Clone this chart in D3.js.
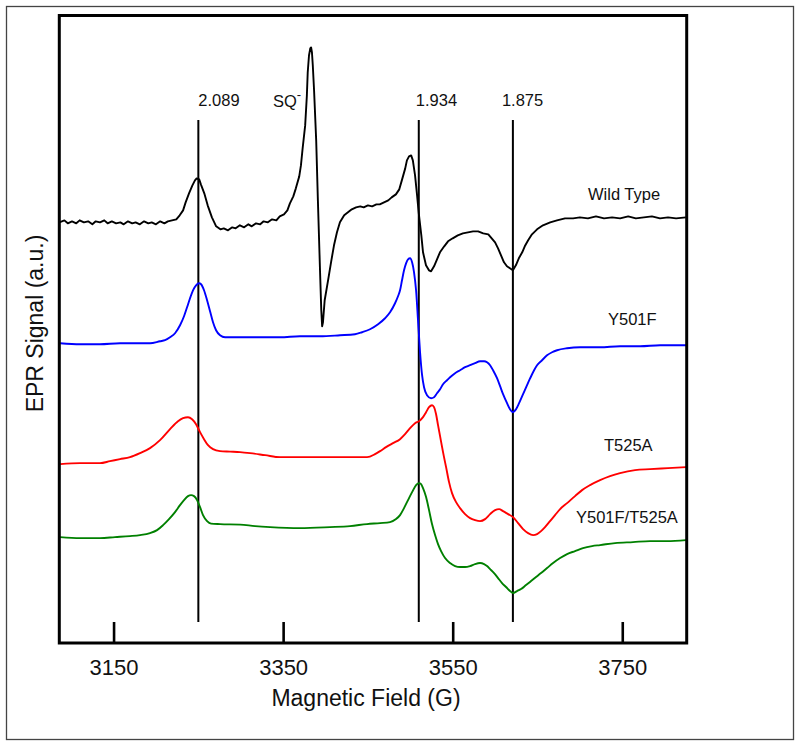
<!DOCTYPE html>
<html>
<head>
<meta charset="utf-8">
<script src="https://cdn.jsdelivr.net/npm/d3@7"></script>
<style>
  html, body { margin: 0; padding: 0; background: #fff; }
  svg { display: block; font-family: "Liberation Sans", Arial, Helvetica, sans-serif; }
</style>
</head>
<body>
<svg id="chart" width="800" height="747"></svg>
<script>
// ---------- DATA (field in Gauss, signal in arbitrary units) ----------
const fieldDomain = [3086, 3826];
const signalDomain = [0, 628];
const xTicks = [3150, 3350, 3550, 3750];

// g-value markers: label, field position (G)
const markerLabels = ["2.089", "1.934", "1.875"];
const markerFields = [3250, 3510, 3621];

const seriesNames = ["Wild Type", "Y501F", "T525A", "Y501F/T525A"];
const seriesColors = ["#000000", "#0000ff", "#ff0000", "#008000"];

const wildType = [
  [3086,421],[3092,423],[3096,420],[3101,422],[3106,420],[3110,423],[3115,421],[3120,422],[3125,419],[3129,422],
  [3134,421],[3139,423],[3143,420],[3148,422],[3153,420],[3158,421],[3162,419],[3167,422],[3172,420],[3176,421],
  [3181,419],[3186,422],[3191,420],[3195,421],[3200,419],[3205,422],[3210,420],[3214,422],[3219,423],[3224,424],
  [3228,428],[3232,433],[3235,441],[3239,450],[3243,458],[3246,463],[3248,465],[3251,464],[3253,459],[3257,450],
  [3261,438],[3266,426],[3271,417],[3276,414],[3280,415],[3285,413],[3290,416],[3294,415],[3299,418],[3304,416],
  [3309,419],[3313,417],[3318,420],[3323,419],[3327,422],[3332,421],[3337,424],[3342,423],[3346,427],[3351,429],
  [3355,433],[3358,440],[3362,447],[3365,455],[3369,467],[3371,478],[3373,495],[3376,518],[3378,548],[3379,571],
  [3380.5,588],[3382,595],[3383,596],[3384,591],[3385,578],[3386.5,553],[3389,503],[3391,443],[3393.5,373],[3395,333],
  [3396,317],[3397,321],[3399,343],[3403,363],[3406.5,381],[3410,398],[3413.5,411],[3417,421],[3422,428],[3426.5,431],
  [3431,434],[3436,436],[3441,437],[3445,436],[3450,438],[3455,437],[3460,439],[3464,439],[3469,441],[3474,443],
  [3478,446],[3483,449],[3487,454],[3490,463],[3494,475],[3496,483],[3498.5,487],[3501,488],[3503,483],[3505.6,468],
  [3508,448],[3510,430],[3513,408],[3515,391],[3518.5,378],[3522,373],[3524.5,372],[3528,377],[3531.5,384],[3535,391],
  [3540,397],[3544.5,402],[3550,405],[3556,408],[3562,410],[3568,411],[3574,412],[3580,412],[3586,410],[3592,409],
  [3596,405],[3600,401],[3603.5,395],[3607,388],[3610.5,381],[3614,377],[3617.5,375],[3621,373],[3624.5,378],[3628,385],
  [3632,391],[3635,397],[3639,403],[3643.5,409],[3649.5,414],[3656.5,418],[3665,421],[3673,423],[3682.5,425],[3692,425],
  [3700,426],[3709.5,425],[3719,427],[3728.5,425],[3738,426],[3747.5,425],[3757,427],[3766,425],[3775.5,426],[3785,427],
  [3794.5,425],[3804,426],[3813.5,425],[3825,426]
];

const y501f = [
  [3087,300],[3110.5,299],[3134,299],[3157.6,300],[3181.2,300],[3193,300],[3204.8,302],[3210.7,303],[3216.6,306],[3222.5,310],
  [3228.4,318],[3233.1,327],[3236.7,336],[3240.2,345],[3243.7,353],[3247.3,358],[3250.8,360],[3253.2,359],[3256.7,353],[3260.3,343],
  [3263.8,332],[3267.3,321],[3270.9,313],[3275.6,308],[3281.5,306],[3299.2,306],[3322.8,306],[3346.4,306],[3369.9,307],[3393.5,307],
  [3417.1,308],[3434.8,309],[3443.1,311],[3452.5,314],[3462,319],[3470.2,325],[3476.1,331],[3482,340],[3485.5,347],[3487.9,353],
  [3490.2,363],[3492.6,373],[3495,380],[3497.3,384],[3499.7,385],[3502.1,381],[3504.4,371],[3506.8,353],[3509.1,323],[3511.5,291],
  [3513.9,268],[3516.2,256],[3519.7,248],[3524.5,245],[3528,246],[3531.5,250],[3535.1,254],[3538.6,259],[3543.3,263],[3546.9,266],
  [3552.8,270],[3558.7,273],[3564.6,276],[3570.5,278],[3576.4,280],[3582.3,282],[3587,282],[3590.5,281],[3594.1,278],[3597.6,273],
  [3602.3,265],[3605.9,257],[3609.4,249],[3614.1,240],[3617.6,234],[3621.2,231],[3624.7,234],[3628.3,240],[3633,249],[3637.7,258],
  [3641.4,265],[3646,273],[3649.5,278],[3655.4,283],[3661.3,288],[3667.2,291],[3673.1,293],[3684.9,295],[3700.2,296],[3723.8,296],
  [3747.4,297],[3771,297],[3794.6,298],[3825.2,298]
];

const t525a = [
  [3087,179],[3110.5,180],[3134,180],[3145.8,182],[3157.6,184],[3169.4,186],[3181.2,190],[3193,195],[3204.8,203],[3216.6,214],
  [3226,222],[3231.9,225],[3237.8,226],[3242.6,224],[3247.3,219],[3252,211],[3256.7,204],[3261.4,198],[3267.3,194],[3275.6,192],
  [3287.4,191.5],[3299.2,191],[3311,190],[3328.7,188],[3346.4,186],[3369.9,186],[3405.3,186],[3449,186],[3458.4,189],[3464.3,192],
  [3471.4,196],[3479.6,200],[3487.9,204],[3493.8,209],[3499.7,215],[3505.6,220],[3510.3,222],[3515,226],[3518.6,231],[3522.1,236],
  [3525.6,238],[3528,236],[3530.4,229],[3532.7,218],[3535.1,207],[3538.6,191],[3542.2,176],[3545.7,161],[3549.2,150],[3554,141],
  [3558.7,135],[3564.6,129],[3570.5,125],[3576.4,123],[3582.3,122],[3588.2,124],[3594.1,129],[3600,133],[3604.7,134],[3609.4,132],
  [3615.3,129],[3621.2,126],[3627.1,120],[3633,114],[3638.9,110],[3644.8,108],[3649.5,109],[3654.2,112],[3658.9,116],[3664.8,122],
  [3670.7,128],[3676.7,134],[3684.9,140],[3694.3,147],[3702.6,153],[3712,158],[3723.8,163],[3735.6,167],[3747.4,170],[3765.1,173],
  [3782.8,174],[3804,175],[3825.2,176]
];

const y501fT525a = [
  [3087,106],[3110.5,105],[3134,105],[3151.7,106],[3169.4,107],[3181.2,108],[3193,110],[3201.3,113],[3208.4,118],[3215.4,124],
  [3222.5,131],[3228.4,138],[3233.1,143],[3237.8,147],[3241.4,148],[3244.9,147],[3248.5,143],[3252,136],[3255.5,128],[3260.3,122],
  [3265,119.5],[3275.6,119],[3299.2,118.5],[3316.9,117],[3334.6,116],[3369.9,115],[3405.3,116],[3428.9,117],[3449,119],[3464.3,120],
  [3476.1,121],[3483.2,124],[3487.9,128],[3492.6,135],[3497.3,143],[3502.1,151],[3506.8,158],[3510.3,160],[3512.7,159],[3515,155],
  [3518.6,146],[3522.1,133],[3525.6,119],[3529.2,108],[3532.7,99],[3536.3,92],[3541,85],[3546.9,80],[3552.8,77],[3558.7,76],
  [3564.6,76],[3570.5,77],[3576.4,79],[3582.3,80],[3587,79],[3590.5,77],[3594.1,74],[3598.8,70],[3603.5,65],[3608.2,60],
  [3612.9,56],[3617.6,52],[3621.2,50],[3625.9,52],[3630.6,54],[3636.5,58],[3642.4,62],[3648.3,66],[3654.2,70],[3661.3,75],
  [3668.4,80],[3676.7,85],[3684.9,89],[3694.3,92],[3703.7,95],[3714.4,97],[3723.8,98],[3741.5,100],[3762.7,101],[3782.8,102],
  [3802.9,102],[3825.2,103]
];

// ---------- LAYOUT ----------
const plot = { left: 59.3, top: 15.5, right: 686.7, bottom: 643 };
const markerTop = 120, markerBottom = 622;

const svg = d3.select("#chart");

const x = d3.scaleLinear().domain(fieldDomain).range([plot.left, plot.right]);
const y = d3.scaleLinear().domain(signalDomain).range([plot.bottom, plot.top]);

// outer border
svg.append("rect")
  .attr("x", 6.5).attr("y", 6.5).attr("width", 787).attr("height", 733)
  .attr("fill", "none").attr("stroke", "#444").attr("stroke-width", 1.3);

// clip
svg.append("clipPath").attr("id", "clip").append("rect")
  .attr("x", plot.left).attr("y", plot.top)
  .attr("width", plot.right - plot.left).attr("height", plot.bottom - plot.top);

// marker lines
const gMarkers = svg.append("g");
markerFields.forEach((f, i) => {
  gMarkers.append("line")
    .attr("x1", x(f)).attr("x2", x(f))
    .attr("y1", markerTop).attr("y2", markerBottom)
    .attr("stroke", "#000").attr("stroke-width", 2);
});
const markerLabelDx = [0, -3, -11];
markerFields.forEach((f, i) => {
  svg.append("text")
    .attr("x", x(f) + markerLabelDx[i]).attr("y", 106)
    .attr("font-size", 16.5).attr("fill", "#111")
    .text(markerLabels[i]);
});

// SQ- label
const sq = svg.append("text").attr("x", 273).attr("y", 107)
  .attr("font-size", 16.5).attr("fill", "#111");
sq.append("tspan").text("SQ");
sq.append("tspan").attr("dy", -8).attr("font-size", 13).text("-");

// series
const allSeries = [wildType, y501f, t525a, y501fT525a];
const gLines = svg.append("g").attr("clip-path", "url(#clip)");
allSeries.forEach((data, i) => {
  const line = d3.line()
    .x(d => x(d[0])).y(d => y(d[1]))
    .curve(i === 0 ? d3.curveLinear : d3.curveMonotoneX);
  gLines.append("path")
    .datum(data)
    .attr("d", line)
    .attr("fill", "none")
    .attr("stroke", seriesColors[i])
    .attr("stroke-width", 1.9)
    .attr("stroke-linejoin", "round");
});

// series labels
const seriesLabelPos = [[588, 200], [608, 325], [604, 451], [576, 523]];
seriesNames.forEach((n, i) => {
  svg.append("text")
    .attr("x", seriesLabelPos[i][0]).attr("y", seriesLabelPos[i][1])
    .attr("font-size", 16.5).attr("fill", "#111")
    .text(n);
});

// frame
svg.append("rect")
  .attr("x", plot.left).attr("y", plot.top)
  .attr("width", plot.right - plot.left).attr("height", plot.bottom - plot.top)
  .attr("fill", "none").attr("stroke", "#000").attr("stroke-width", 3);

// x axis ticks (inward)
const xAxis = d3.axisBottom(x).tickValues(xTicks).tickSizeInner(-21).tickSizeOuter(0).tickFormat(d3.format("d"));
const gx = svg.append("g").attr("transform", `translate(0,${plot.bottom})`).call(xAxis);
gx.select(".domain").remove();
gx.selectAll(".tick line").attr("stroke", "#000").attr("stroke-width", 2.6);
gx.selectAll(".tick text")
  .attr("y", 32).attr("dy", 0)
  .attr("font-size", 22).attr("fill", "#111")
  .attr("font-family", "Liberation Sans, Arial, sans-serif");

// axis titles
svg.append("text")
  .attr("x", 366).attr("y", 706)
  .attr("text-anchor", "middle").attr("font-size", 23).attr("fill", "#111")
  .text("Magnetic Field (G)");
svg.append("text")
  .attr("transform", "translate(43,323.5) rotate(-90)")
  .attr("text-anchor", "middle").attr("font-size", 23).attr("fill", "#111")
  .text("EPR Signal (a.u.)");
</script>
</body>
</html>
